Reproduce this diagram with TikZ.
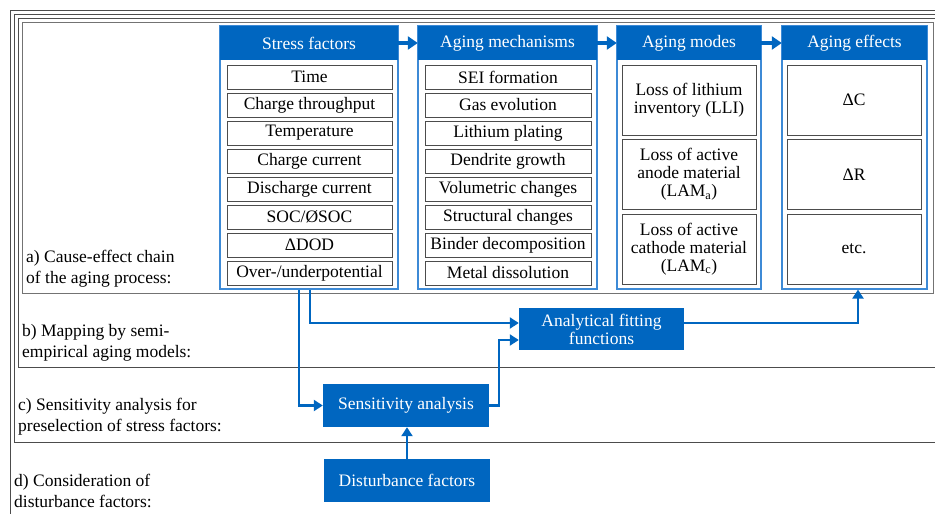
\documentclass[tikz,border=0pt]{standalone}
\usepackage{fontspec}
\setmainfont{Liberation Serif}
\newfontfamily\chainfont{Liberation Serif}
\usetikzlibrary{positioning,arrows.meta}
\definecolor{chainblue}{HTML}{0066C0}
\definecolor{colblue}{HTML}{3D8AD6}

\begin{document}
\begin{tikzpicture}[x=1pt,y=-1pt,
    column/.style={draw=colblue,line width=1.2pt,inner sep=0pt,minimum height=263pt},
    head/.style={fill=chainblue,text=white,inner sep=0pt,minimum height=34pt,font=\chainfont\fontsize{17.5}{18}\selectfont},
    item/.style={draw=black!70,line width=1pt,fill=white,minimum height=24pt,inner sep=0pt,font=\chainfont\fontsize{17.5}{18}\selectfont},
    block/.style={draw=black!70,line width=1pt,minimum width=134pt,minimum height=70pt,align=center,inner sep=0pt,font=\chainfont\fontsize{17.5}{18}\selectfont},
    bluebox/.style={fill=chainblue,text=white,align=center,inner sep=0pt,font=\chainfont\fontsize{17.5}{18}\selectfont},
    stage/.style={anchor=west,align=left,inner sep=0pt,font=\chainfont\fontsize{17.5}{21}\selectfont},
    frame/.style={draw=black!70,line width=1pt},
    link/.style={-{Triangle[length=10pt,width=13pt]},chainblue,line width=3.5pt},
    conn/.style={-{Triangle[length=9pt,width=11pt]},chainblue,line width=2.2pt},
]
\useasboundingbox (0,0) rectangle (935,514);

% nested frames
\draw[frame] (10,10) rectangle (950,530);
\draw[frame] (14,14) rectangle (950,442);
\draw[frame] (18,18) rectangle (950,367);
\draw[frame,draw=black!55] (22,22) rectangle (933,293);

\node[stage] (la) at (26,269) {a) Cause-effect chain\\of the aging process:};
\node[stage] (lb) at (22,342.5) {b) Mapping by semi-\\empirical aging models:};
\node[stage] (lc) at (18,417) {c) Sensitivity analysis for\\preselection of stress factors:};
\node[stage] (ld) at (14,491) {d) Consideration of\\disturbance factors:};

% columns
\node[column,minimum width=178pt] (sfcol) at (309,157.5) {};
\node[column,minimum width=179pt] (amcol) at (507.5,157.5) {};
\node[column,minimum width=144pt] (mocol) at (689,157.5) {};
\node[column,minimum width=145pt] (efcol) at (854.5,157.5) {};

\node[head,minimum width=178pt] (sf) at (309,43) {Stress factors};
\node[head,minimum width=179pt] (am) at (507.5,43) {Aging mechanisms};
\node[head,minimum width=144pt] (mo) at (689,43) {Aging modes};
\node[head,minimum width=145pt] (ef) at (854.5,43) {Aging effects};

\draw[link] (sf) -- (am);
\draw[link] (am) -- (mo);
\draw[link] (mo) -- (ef);

% stress factors
\node[item,minimum width=165pt] (sf1) at (309.5,77) {Time};
\node[item,minimum width=165pt] (sf2) at (309.5,105) {Charge throughput};
\node[item,minimum width=165pt] (sf3) at (309.5,133) {Temperature};
\node[item,minimum width=165pt] (sf4) at (309.5,161) {Charge current};
\node[item,minimum width=165pt] (sf5) at (309.5,189) {Discharge current};
\node[item,minimum width=165pt] (sf6) at (309.5,217) {SOC/ØSOC};
\node[item,minimum width=165pt] (sf7) at (309.5,245) {ΔDOD};
\node[item,minimum width=165pt] (sf8) at (309.5,273) {Over-/underpotential};

% aging mechanisms
\node[item,minimum width=166pt] (am1) at (508,77) {SEI formation};
\node[item,minimum width=166pt] (am2) at (508,105) {Gas evolution};
\node[item,minimum width=166pt] (am3) at (508,133) {Lithium plating};
\node[item,minimum width=166pt] (am4) at (508,161) {Dendrite growth};
\node[item,minimum width=166pt] (am5) at (508,189) {Volumetric changes};
\node[item,minimum width=166pt] (am6) at (508,217) {Structural changes};
\node[item,minimum width=166pt] (am7) at (508,245) {Binder decomposition};
\node[item,minimum width=166pt] (am8) at (508,273) {Metal dissolution};

% aging modes
\node[block] (mo1) at (689,100) {Loss of lithium\\inventory (LLI)};
\node[block] (mo2) at (689,174.5) {Loss of active\\anode material\\(LAM\textsubscript{a})};
\node[block] (mo3) at (689,249) {Loss of active\\cathode material\\(LAM\textsubscript{c})};

% aging effects
\node[block] (ef1) at (854,100) {ΔC};
\node[block] (ef2) at (854,174.5) {ΔR};
\node[block] (ef3) at (854,249) {etc.};

% models and analysis
\node[bluebox,minimum width=165pt,minimum height=42pt] (fit) at (601.5,329) {Analytical fitting\\functions};
\node[bluebox,minimum width=166pt,minimum height=43pt] (sens) at (406,405.5) {Sensitivity analysis};
\node[bluebox,minimum width=166pt,minimum height=43pt] (dist) at (407,480.5) {Disturbance factors};

\draw[conn] ([xshift=-10pt]sfcol.south) |- (sens);
\draw[conn] ([xshift=1pt]sfcol.south) |- ([yshift=6pt]fit.west);
\draw[conn] (sens.east) -- ++(10,0) |- ([yshift=-11pt]fit.west);
\draw[conn] ([yshift=6pt]fit.east) -| ([xshift=3.5pt]efcol.south);
\draw[conn] (dist.north) -- (dist.north |- sens.south);
\end{tikzpicture}
\end{document}
